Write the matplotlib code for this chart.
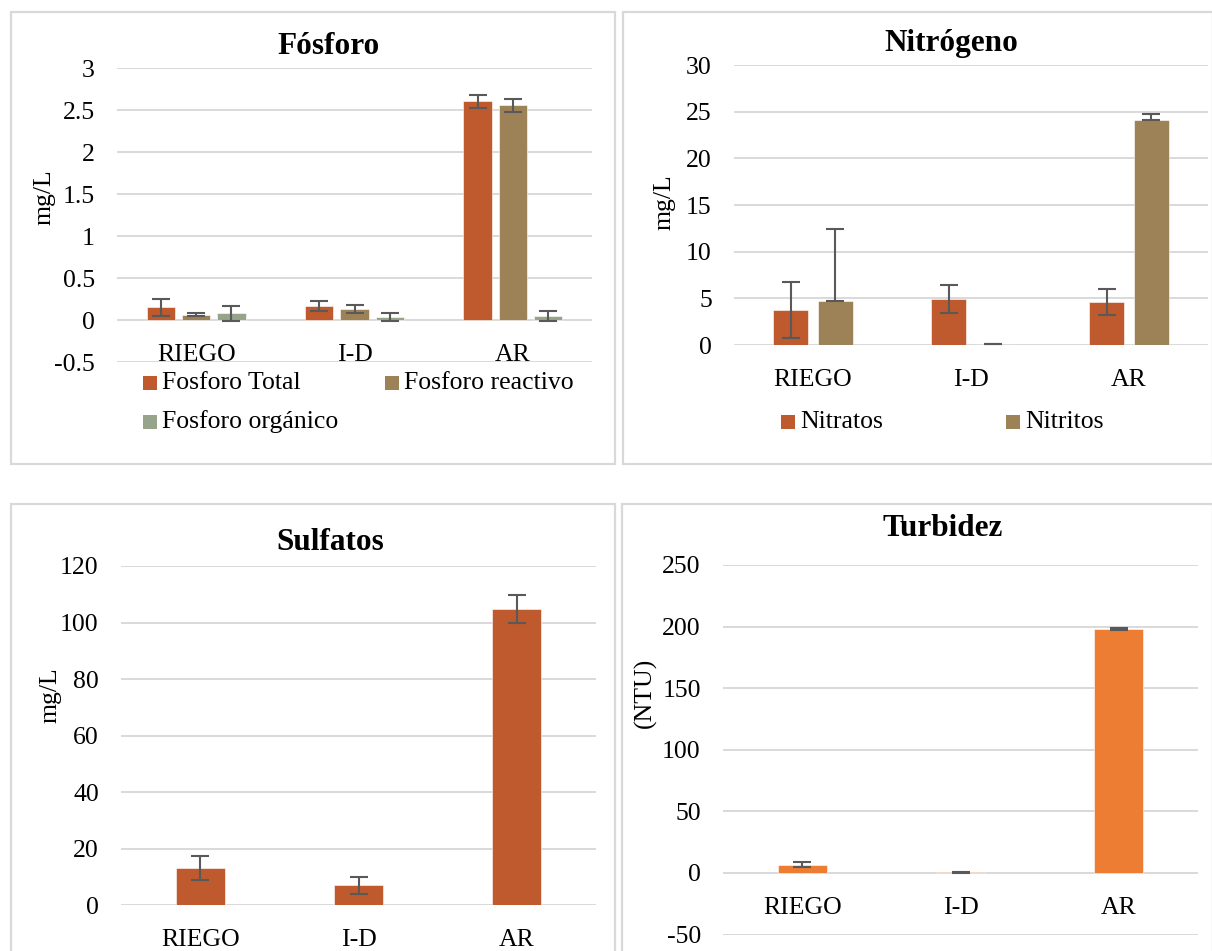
import matplotlib
matplotlib.use("Agg")
import matplotlib.pyplot as plt
from matplotlib.patches import Rectangle
import numpy as np

plt.rcParams['font.family'] = ['Liberation Serif', 'DejaVu Serif']

# ---- data ----
categories = ["RIEGO", "I-D", "AR"]

fosforo_series = ["Fosforo Total", "Fosforo reactivo", "Fosforo orgánico"]
fosforo_total = [0.15, 0.17, 2.605]
fosforo_total_err = [0.10, 0.058, 0.075]
fosforo_reactivo = [0.065, 0.13, 2.56]
fosforo_reactivo_err = [0.018, 0.045, 0.08]
fosforo_organico = [0.08, 0.035, 0.05]
fosforo_organico_err = [0.09, 0.045, 0.06]

nitrogeno_series = ["Nitratos", "Nitritos"]
nitratos = [3.75, 4.93, 4.64]
nitratos_err = [3.0, 1.55, 1.4]
nitritos = [4.68, 0.12, 24.1]
nitritos_err_up = [7.7, 0.0, 0.6]

sulfatos = [13.1, 7.1, 104.9]
sulfatos_err = [4.25, 3.0, 5.0]

turbidez = [6.5, 0.5, 198.0]
turbidez_err = [2.0, 0.3, 0.5]

C_TOTAL = "#BE5A2D"
C_REACT = "#9E8257"
C_ORG = "#97A489"
C_TURB = "#EC7D32"
ERR_C = "#595959"
GRID_C = "#D9D9D9"

W, H = 1212, 951
fig = plt.figure(figsize=(W / 100, H / 100), dpi=100)
fig.patch.set_facecolor("white")

FS = 18.5
TFS = 22.5


def px_axes(left, right, top, bottom):
    return fig.add_axes([left / W, 1 - bottom / H, (right - left) / W, (bottom - top) / H])


def panel_box(x0, y0, x1, y1):
    fig.patches.append(Rectangle((x0 / W, 1 - y1 / H), (x1 - x0) / W, (y1 - y0) / H,
                                 transform=fig.transFigure, fill=False,
                                 edgecolor=GRID_C, linewidth=1.6))


def style_axes(ax, ylim, yticks, tick_fmt):
    for s in ["top", "right", "left"]:
        ax.spines[s].set_visible(False)
    ax.spines["bottom"].set_position(("data", 0))
    ax.spines["bottom"].set_color("none")
    ax.set_ylim(*ylim)
    ax.set_xlim(-0.5, 2.5)
    ax.set_yticks(yticks)
    ax.set_yticklabels([tick_fmt(v) for v in yticks])
    ax.set_xticks(range(len(categories)))
    ax.set_xticklabels(categories)
    ax.tick_params(axis="both", length=0, labelsize=FS)
    ax.tick_params(axis="y", pad=16)
    ax.tick_params(axis="x", pad=17)
    ax.yaxis.grid(True, color=GRID_C, linewidth=1.4)
    ax.set_axisbelow(True)
    ax.set_facecolor("none")


def bars(ax, x, vals, width, color, err=None):
    ax.bar(x, vals, width=width, color=color, edgecolor="#ffffff", linewidth=0.4, zorder=2)
    if err is not None:
        ax.errorbar(x, vals, yerr=err, fmt="none", ecolor=ERR_C, elinewidth=1.5,
                    capsize=6.5, capthick=1.5, zorder=3)


def legend_item(x, y, color, label):
    fig.patches.append(Rectangle((x / W, 1 - (y + 7) / H), 14 / W, 14 / H,
                                 transform=fig.transFigure, facecolor=color,
                                 edgecolor="none"))
    fig.text((x + 19) / W, 1 - y / H, label, fontsize=FS, va="center", ha="left")


def fmt_num(v):
    return ("%g" % v)


x = np.arange(len(categories))

# ---- Fósforo ----
panel_box(10.5, 11.7, 615, 464)
ax1 = px_axes(117, 592, 68.3, 362)
bw = 0.178
step = 0.223
bars(ax1, x - step, fosforo_total, bw, C_TOTAL, fosforo_total_err)
bars(ax1, x, fosforo_reactivo, bw, C_REACT, fosforo_reactivo_err)
bars(ax1, x + step, fosforo_organico, bw, C_ORG, fosforo_organico_err)
style_axes(ax1, (-0.5, 3), [-0.5, 0, 0.5, 1, 1.5, 2, 2.5, 3], fmt_num)
fig.text(329 / W, 1 - 47 / H, "Fósforo", fontsize=TFS, fontweight="bold", ha="center", va="center")
fig.text(44 / W, 1 - 197 / H, "mg/L", fontsize=FS, rotation=90, ha="center", va="center")
legend_item(143, 383, C_TOTAL, fosforo_series[0])
legend_item(385, 383, C_REACT, fosforo_series[1])
legend_item(143, 422, C_ORG, fosforo_series[2])

# ---- Nitrógeno ----
panel_box(623, 11.7, 1213, 464)
ax2 = px_axes(734, 1208, 65, 345)
bw2 = 0.222
step2 = 0.142
bars(ax2, x - step2, nitratos, bw2, C_TOTAL, nitratos_err)
bars(ax2, x + step2, nitritos, bw2, C_REACT,
     [np.zeros(len(nitritos_err_up)), nitritos_err_up])
style_axes(ax2, (0, 30), [0, 5, 10, 15, 20, 25, 30], fmt_num)
fig.text(951 / W, 1 - 43 / H, "Nitrógeno", fontsize=TFS, fontweight="bold", ha="center", va="center")
fig.text(664 / W, 1 - 202 / H, "mg/L", fontsize=FS, rotation=90, ha="center", va="center")
legend_item(781, 422, C_TOTAL, nitrogeno_series[0])
legend_item(1006, 422, C_REACT, nitrogeno_series[1])

# ---- Sulfatos ----
panel_box(10.5, 504.3, 615, 960)
ax3 = px_axes(121, 596, 566, 905.3)
bars(ax3, x, sulfatos, 0.31, C_TOTAL, sulfatos_err)
style_axes(ax3, (0, 120), [0, 20, 40, 60, 80, 100, 120], fmt_num)
fig.text(330 / W, 1 - 543 / H, "Sulfatos", fontsize=TFS, fontweight="bold", ha="center", va="center")
fig.text(50 / W, 1 - 695 / H, "mg/L", fontsize=FS, rotation=90, ha="center", va="center")

# ---- Turbidez ----
panel_box(622, 504.3, 1213, 960)
ax4 = px_axes(723, 1198, 565, 934.5)
bars(ax4, x, turbidez, 0.31, C_TURB, turbidez_err)
style_axes(ax4, (-50, 250), [-50, 0, 50, 100, 150, 200, 250], fmt_num)
fig.text(943 / W, 1 - 528 / H, "Turbidez", fontsize=TFS, fontweight="bold", ha="center", va="center")
fig.text(645 / W, 1 - 693 / H, "(NTU)", fontsize=FS, rotation=90, ha="center", va="center")

fig.savefig("out.png", dpi=100)
